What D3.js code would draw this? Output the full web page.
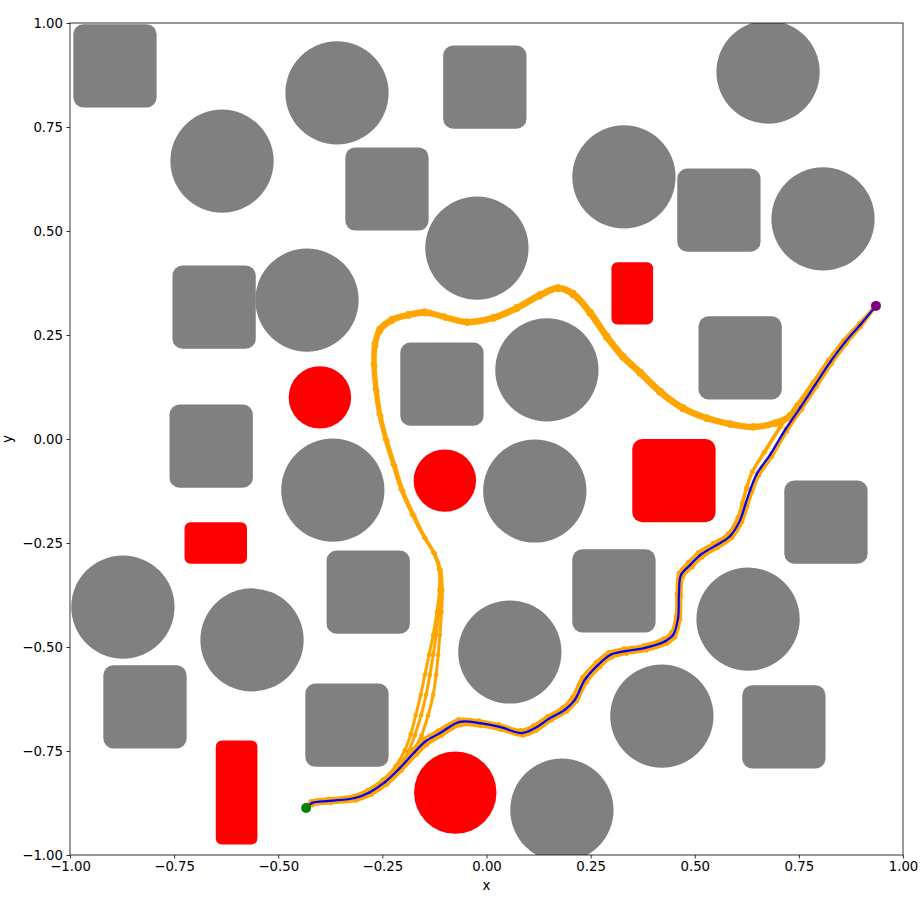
<!DOCTYPE html>
<html>
<head>
<meta charset="utf-8">
<script src="https://cdn.jsdelivr.net/npm/d3@7"></script>
<style>
  body { margin: 0; background: #fff; }
  svg { font-family: "DejaVu Sans", sans-serif; }
</style>
</head>
<body>
<svg id="chart"></svg>
<script>
// obstacles (data coords: centre x, centre y, radius or width/height)
const grayCircles = [
  [-0.359, 0.832, 0.124], [-0.635, 0.668, 0.124], [0.676, 0.882, 0.124],
  [0.330, 0.630, 0.124], [0.808, 0.529, 0.124], [-0.023, 0.459, 0.124],
  [-0.431, 0.334, 0.124], [0.145, 0.166, 0.124], [-0.369, -0.123, 0.124],
  [0.116, -0.125, 0.124], [-0.873, -0.404, 0.124], [-0.563, -0.483, 0.124],
  [0.628, -0.433, 0.124], [0.056, -0.512, 0.124], [0.421, -0.666, 0.124],
  [0.181, -0.892, 0.124]
];
const graySquares = [
  [-0.892, 0.897, 0.2, 0.2], [-0.004, 0.846, 0.2, 0.2], [-0.239, 0.601, 0.2, 0.2],
  [0.558, 0.550, 0.2, 0.2], [-0.654, 0.317, 0.2, 0.2], [0.609, 0.195, 0.2, 0.2],
  [-0.107, 0.132, 0.2, 0.2], [-0.661, -0.017, 0.2, 0.2], [0.815, -0.200, 0.2, 0.2],
  [-0.284, -0.368, 0.2, 0.2], [0.306, -0.365, 0.2, 0.2], [-0.820, -0.644, 0.2, 0.2],
  [-0.335, -0.688, 0.2, 0.2], [0.714, -0.692, 0.2, 0.2]
];
const redCircles = [
  [-0.400, 0.100, 0.075], [-0.100, -0.100, 0.075], [-0.075, -0.850, 0.099]
];
const redRects = [
  [0.350, 0.350, 0.1, 0.15], [0.450, -0.100, 0.2, 0.2],
  [-0.650, -0.250, 0.15, 0.1], [-0.600, -0.850, 0.1, 0.25]
];

const startPoint = [-0.433, -0.887];
const goalPoint = [0.935, 0.320];

// sampled trajectories via the lower passage
const lower1 = [[-0.433,-0.887],[-0.417,-0.880],[-0.374,-0.875],[-0.313,-0.869],[-0.276,-0.855],[-0.240,-0.831],[-0.204,-0.797],[-0.168,-0.759],[-0.143,-0.735],[-0.108,-0.713],[-0.062,-0.688],[-0.014,-0.690],[0.034,-0.699],[0.087,-0.713],[0.120,-0.701],[0.156,-0.676],[0.193,-0.655],[0.217,-0.630],[0.241,-0.584],[0.273,-0.548],[0.301,-0.525],[0.336,-0.516],[0.384,-0.508],[0.433,-0.492],[0.453,-0.476],[0.465,-0.433],[0.467,-0.378],[0.472,-0.331],[0.494,-0.308],[0.518,-0.284],[0.554,-0.262],[0.590,-0.237],[0.614,-0.199],[0.626,-0.163],[0.638,-0.127],[0.654,-0.088],[0.686,-0.042],[0.721,0.018],[0.757,0.071],[0.793,0.126],[0.829,0.181],[0.864,0.229],[0.899,0.270],[0.935,0.320]];
const lower2 = [[-0.433,-0.887],[-0.421,-0.871],[-0.379,-0.865],[-0.319,-0.858],[-0.284,-0.843],[-0.249,-0.819],[-0.213,-0.785],[-0.177,-0.746],[-0.152,-0.722],[-0.116,-0.701],[-0.067,-0.674],[-0.018,-0.677],[0.030,-0.686],[0.082,-0.700],[0.112,-0.689],[0.147,-0.666],[0.183,-0.645],[0.206,-0.620],[0.230,-0.573],[0.263,-0.537],[0.293,-0.513],[0.330,-0.504],[0.378,-0.496],[0.425,-0.480],[0.443,-0.466],[0.455,-0.426],[0.457,-0.372],[0.462,-0.322],[0.484,-0.297],[0.508,-0.273],[0.544,-0.251],[0.580,-0.227],[0.603,-0.189],[0.614,-0.153],[0.624,-0.117],[0.638,-0.078],[0.668,-0.032],[0.707,0.030],[0.746,0.083],[0.784,0.137],[0.821,0.190],[0.858,0.238],[0.895,0.278],[0.935,0.320]];
const lower3 = [[-0.433,-0.887],[-0.418,-0.878],[-0.377,-0.872],[-0.318,-0.866],[-0.282,-0.852],[-0.246,-0.829],[-0.210,-0.794],[-0.174,-0.755],[-0.146,-0.731],[-0.110,-0.710],[-0.066,-0.684],[-0.017,-0.686],[0.031,-0.695],[0.084,-0.710],[0.118,-0.698],[0.150,-0.674],[0.185,-0.654],[0.209,-0.630],[0.233,-0.582],[0.265,-0.546],[0.295,-0.522],[0.331,-0.513],[0.379,-0.505],[0.427,-0.489],[0.446,-0.474],[0.458,-0.433],[0.460,-0.378],[0.465,-0.330],[0.486,-0.306],[0.510,-0.282],[0.546,-0.260],[0.582,-0.236],[0.604,-0.198],[0.614,-0.160],[0.624,-0.121],[0.638,-0.080],[0.666,-0.032],[0.704,0.028],[0.744,0.081],[0.783,0.134],[0.820,0.188],[0.857,0.236],[0.895,0.277],[0.935,0.320]];
const lower4 = [[-0.433,-0.887],[-0.416,-0.877],[-0.372,-0.868],[-0.314,-0.861],[-0.278,-0.847],[-0.243,-0.823],[-0.206,-0.788],[-0.170,-0.749],[-0.145,-0.725],[-0.110,-0.704],[-0.063,-0.678],[-0.015,-0.681],[0.033,-0.690],[0.086,-0.704],[0.117,-0.692],[0.153,-0.668],[0.189,-0.648],[0.214,-0.624],[0.238,-0.576],[0.270,-0.540],[0.299,-0.516],[0.334,-0.507],[0.382,-0.499],[0.431,-0.483],[0.450,-0.468],[0.463,-0.427],[0.464,-0.372],[0.469,-0.324],[0.491,-0.300],[0.515,-0.276],[0.551,-0.254],[0.587,-0.230],[0.611,-0.192],[0.623,-0.156],[0.635,-0.120],[0.651,-0.081],[0.684,-0.035],[0.719,0.025],[0.755,0.078],[0.791,0.133],[0.827,0.188],[0.863,0.235],[0.898,0.276],[0.935,0.320]];

// sampled trajectories via the upper passage
const upper1 = [[-0.433,-0.887],[-0.419,-0.875],[-0.376,-0.870],[-0.316,-0.863],[-0.280,-0.849],[-0.244,-0.825],[-0.212,-0.791],[-0.188,-0.752],[-0.172,-0.712],[-0.157,-0.664],[-0.145,-0.615],[-0.136,-0.567],[-0.128,-0.519],[-0.121,-0.471],[-0.114,-0.416],[-0.109,-0.363],[-0.112,-0.315],[-0.126,-0.274],[-0.148,-0.238],[-0.176,-0.183],[-0.203,-0.123],[-0.222,-0.063],[-0.241,-0.002],[-0.256,0.058],[-0.265,0.118],[-0.270,0.178],[-0.268,0.226],[-0.256,0.262],[-0.227,0.286],[-0.188,0.298],[-0.148,0.305],[-0.100,0.293],[-0.047,0.281],[0.016,0.291],[0.073,0.315],[0.128,0.346],[0.172,0.363],[0.208,0.349],[0.249,0.303],[0.289,0.245],[0.328,0.197],[0.369,0.159],[0.417,0.113],[0.472,0.074],[0.529,0.050],[0.585,0.036],[0.640,0.029],[0.693,0.038],[0.729,0.055],[0.753,0.082],[0.789,0.130],[0.825,0.185],[0.861,0.233],[0.897,0.274],[0.935,0.320]];
const upper2 = [[-0.433,-0.887],[-0.418,-0.878],[-0.374,-0.873],[-0.313,-0.866],[-0.276,-0.853],[-0.238,-0.829],[-0.204,-0.794],[-0.176,-0.752],[-0.156,-0.712],[-0.140,-0.664],[-0.128,-0.615],[-0.121,-0.567],[-0.116,-0.519],[-0.112,-0.471],[-0.108,-0.416],[-0.106,-0.363],[-0.110,-0.315],[-0.124,-0.276],[-0.146,-0.240],[-0.173,-0.185],[-0.200,-0.125],[-0.219,-0.065],[-0.238,-0.004],[-0.253,0.056],[-0.262,0.116],[-0.267,0.176],[-0.265,0.223],[-0.254,0.258],[-0.226,0.282],[-0.187,0.294],[-0.147,0.300],[-0.099,0.289],[-0.046,0.277],[0.017,0.287],[0.075,0.311],[0.129,0.341],[0.172,0.358],[0.206,0.344],[0.246,0.300],[0.286,0.242],[0.325,0.194],[0.366,0.156],[0.414,0.110],[0.470,0.070],[0.528,0.046],[0.585,0.032],[0.640,0.025],[0.694,0.034],[0.731,0.051],[0.756,0.078],[0.791,0.127],[0.827,0.182],[0.862,0.231],[0.898,0.272],[0.935,0.320]];
const upper3 = [[-0.433,-0.887],[-0.420,-0.873],[-0.378,-0.867],[-0.319,-0.860],[-0.283,-0.845],[-0.248,-0.821],[-0.218,-0.786],[-0.196,-0.748],[-0.182,-0.710],[-0.170,-0.664],[-0.158,-0.615],[-0.148,-0.567],[-0.138,-0.519],[-0.128,-0.471],[-0.119,-0.416],[-0.113,-0.363],[-0.114,-0.313],[-0.128,-0.272],[-0.150,-0.236],[-0.179,-0.181],[-0.206,-0.121],[-0.225,-0.061],[-0.244,0.000],[-0.259,0.060],[-0.268,0.120],[-0.273,0.180],[-0.271,0.229],[-0.259,0.266],[-0.229,0.290],[-0.189,0.302],[-0.149,0.309],[-0.101,0.297],[-0.048,0.285],[0.015,0.295],[0.071,0.319],[0.127,0.350],[0.172,0.367],[0.210,0.353],[0.252,0.307],[0.292,0.249],[0.331,0.201],[0.372,0.163],[0.420,0.117],[0.474,0.078],[0.530,0.054],[0.585,0.040],[0.640,0.033],[0.692,0.042],[0.727,0.059],[0.750,0.086],[0.787,0.133],[0.823,0.188],[0.859,0.236],[0.896,0.276],[0.935,0.320]];

// best path
const bestPath = [[-0.433,-0.887],[-0.419,-0.875],[-0.376,-0.870],[-0.316,-0.863],[-0.280,-0.849],[-0.244,-0.825],[-0.208,-0.791],[-0.172,-0.752],[-0.148,-0.728],[-0.112,-0.707],[-0.064,-0.680],[-0.016,-0.683],[0.032,-0.692],[0.085,-0.707],[0.116,-0.695],[0.152,-0.671],[0.188,-0.651],[0.212,-0.627],[0.236,-0.579],[0.268,-0.543],[0.297,-0.519],[0.333,-0.510],[0.381,-0.502],[0.429,-0.486],[0.448,-0.471],[0.460,-0.430],[0.462,-0.375],[0.467,-0.327],[0.489,-0.303],[0.513,-0.279],[0.549,-0.257],[0.585,-0.233],[0.609,-0.195],[0.621,-0.159],[0.633,-0.123],[0.649,-0.084],[0.681,-0.038],[0.717,0.022],[0.753,0.075],[0.789,0.130],[0.825,0.185],[0.861,0.233],[0.897,0.274],[0.935,0.320]];

const samples = [upper1, upper2, upper3, lower1, lower2, lower3, lower4];
const ticks = [-1, -0.75, -0.5, -0.25, 0, 0.25, 0.5, 0.75, 1];

const width = 920, height = 900;
const margin = { top: 23, right: 17, bottom: 45, left: 70 };

const svg = d3.select("#chart").attr("width", width).attr("height", height);

const x = d3.scaleLinear().domain([-1, 1]).range([margin.left, width - margin.right]);
const y = d3.scaleLinear().domain([-1, 1]).range([height - margin.bottom, margin.top]);

// scale a data length into pixels
const sx = (d) => x(d) - x(0);
const sy = (d) => y(0) - y(d);

svg.append("clipPath").attr("id", "plot-clip")
  .append("rect")
  .attr("x", x(-1)).attr("y", y(1))
  .attr("width", x(1) - x(-1)).attr("height", y(-1) - y(1));

const plot = svg.append("g").attr("clip-path", "url(#plot-clip)");

// obstacles
plot.selectAll(".gc").data(grayCircles).enter().append("ellipse")
  .attr("cx", (d) => x(d[0])).attr("cy", (d) => y(d[1]))
  .attr("rx", (d) => sx(d[2])).attr("ry", (d) => sy(d[2]))
  .attr("fill", "#808080");

plot.selectAll(".gs").data(graySquares).enter().append("rect")
  .attr("x", (d) => x(d[0] - d[2] / 2)).attr("y", (d) => y(d[1] + d[3] / 2))
  .attr("width", (d) => sx(d[2])).attr("height", (d) => sy(d[3]))
  .attr("rx", 10).attr("ry", 10)
  .attr("fill", "#808080");

plot.selectAll(".rc").data(redCircles).enter().append("ellipse")
  .attr("cx", (d) => x(d[0])).attr("cy", (d) => y(d[1]))
  .attr("rx", (d) => sx(d[2])).attr("ry", (d) => sy(d[2]))
  .attr("fill", "#ff0000");

plot.selectAll(".rr").data(redRects).enter().append("rect")
  .attr("x", (d) => x(d[0] - d[2] / 2)).attr("y", (d) => y(d[1] + d[3] / 2))
  .attr("width", (d) => sx(d[2])).attr("height", (d) => sy(d[3]))
  .attr("rx", (d) => (Math.min(d[2], d[3]) >= 0.2 ? 10 : 6))
  .attr("ry", (d) => (Math.min(d[2], d[3]) >= 0.2 ? 10 : 6))
  .attr("fill", "#ff0000");

const line = d3.line()
  .x((d) => x(d[0])).y((d) => y(d[1]))
  .curve(d3.curveCatmullRom.alpha(0.5));

// sampled trajectories
samples.forEach((path) => {
  plot.append("path").datum(path)
    .attr("d", line)
    .attr("fill", "none")
    .attr("stroke", "#ffa500")
    .attr("stroke-width", 3)
    .attr("stroke-linejoin", "round");
  plot.append("g").selectAll("circle").data(path).enter().append("circle")
    .attr("cx", (d) => x(d[0])).attr("cy", (d) => y(d[1]))
    .attr("r", 2.3)
    .attr("fill", "#ffa500");
});

// best path
plot.append("path").datum(bestPath)
  .attr("d", line)
  .attr("fill", "none")
  .attr("stroke", "#0000ff")
  .attr("stroke-width", 2.2)
  .attr("stroke-linejoin", "round");
plot.append("g").selectAll("circle").data(bestPath).enter().append("circle")
  .attr("cx", (d) => x(d[0])).attr("cy", (d) => y(d[1]))
  .attr("r", 1.2)
  .attr("fill", "#0000ff");

// start and goal
svg.append("circle")
  .attr("cx", x(startPoint[0])).attr("cy", y(startPoint[1]))
  .attr("r", 5).attr("fill", "#008000");
svg.append("circle")
  .attr("cx", x(goalPoint[0])).attr("cy", y(goalPoint[1]))
  .attr("r", 5).attr("fill", "#800080");

// axes
const fmt = d3.format(".2f");
const xAxis = svg.append("g")
  .attr("transform", `translate(0,${y(-1)})`)
  .call(d3.axisBottom(x).tickValues(ticks).tickFormat(fmt).tickSize(3.5).tickPadding(3.5));
const yAxis = svg.append("g")
  .attr("transform", `translate(${x(-1)},0)`)
  .call(d3.axisLeft(y).tickValues(ticks).tickFormat(fmt).tickSize(3.5).tickPadding(3.5));

[xAxis, yAxis].forEach((g) => {
  g.select(".domain").remove();
  g.selectAll(".tick line").attr("stroke", "#000").attr("stroke-width", 0.8);
  g.selectAll("text").attr("font-size", "13.3px").attr("fill", "#000")
    .attr("font-family", "DejaVu Sans, sans-serif");
});

// frame
svg.append("rect")
  .attr("x", x(-1)).attr("y", y(1))
  .attr("width", x(1) - x(-1)).attr("height", y(-1) - y(1))
  .attr("fill", "none").attr("stroke", "#000").attr("stroke-width", 0.8);

// axis labels
svg.append("text")
  .attr("x", (x(-1) + x(1)) / 2).attr("y", height - 10)
  .attr("text-anchor", "middle")
  .attr("font-size", "13.3px")
  .text("x");
svg.append("text")
  .attr("transform", `translate(12,${(y(-1) + y(1)) / 2}) rotate(-90)`)
  .attr("text-anchor", "middle")
  .attr("font-size", "13.3px")
  .text("y");
</script>
</body>
</html>
